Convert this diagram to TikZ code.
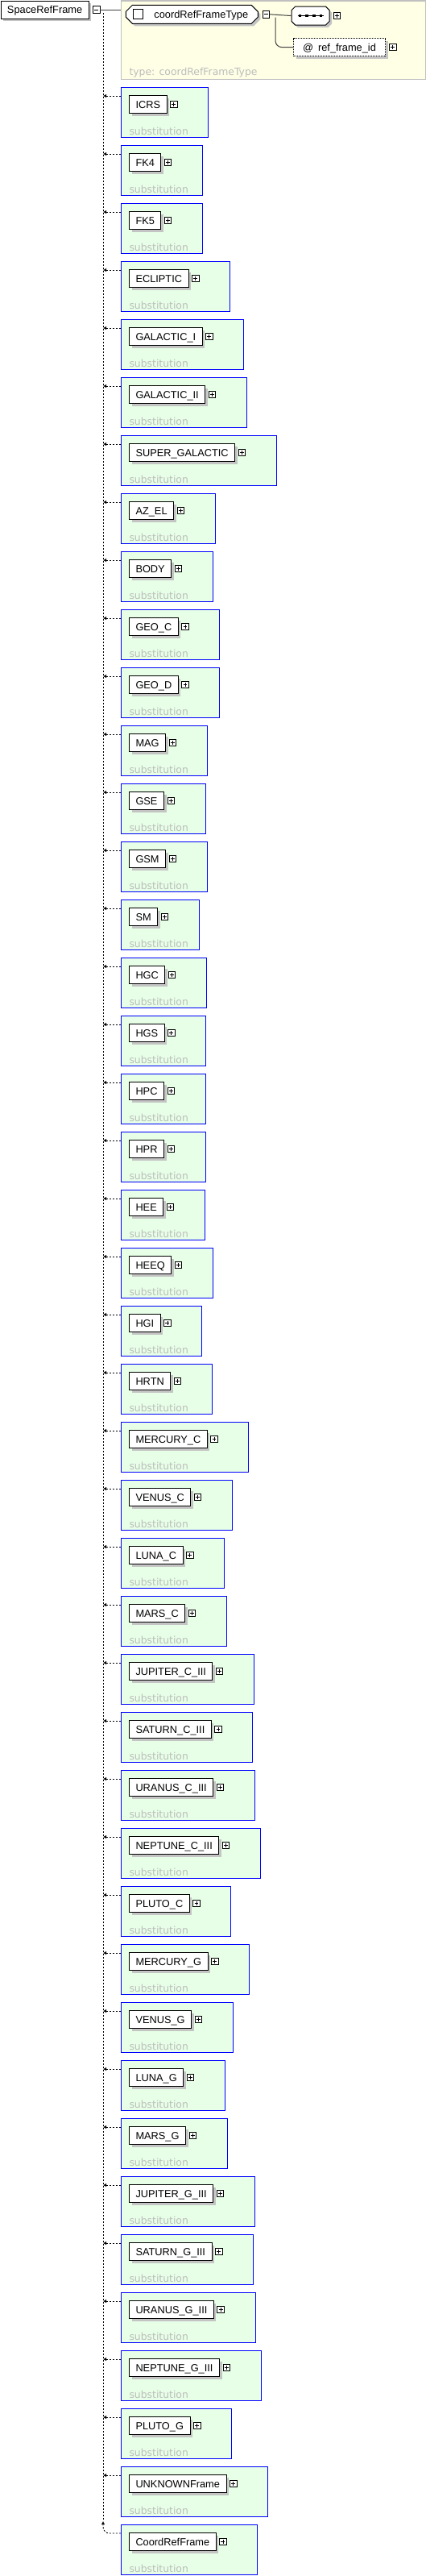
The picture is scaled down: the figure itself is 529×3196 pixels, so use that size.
\documentclass[tikz,border=0pt]{standalone}
\usepackage{fontspec}
\setmainfont{Liberation Sans}
\newfontfamily\notefont{DejaVu Sans}
\usetikzlibrary{positioning,shapes.misc,shadows,arrows.meta,backgrounds,fit}

\definecolor{substfill}{HTML}{E6FFE6}
\definecolor{substline}{HTML}{0000FF}
\definecolor{typefill}{HTML}{FFFFE6}
\definecolor{typeline}{HTML}{C0C0C0}
\definecolor{shadowgray}{HTML}{C4C4C4}
\definecolor{notegray}{HTML}{BDBDBD}
\definecolor{linkgray}{HTML}{404040}

\begin{document}
\begin{tikzpicture}[x=1pt, y=-1pt, line width=1pt]
  \tikzstyle{boxshadow}=[drop shadow={shadow xshift=3pt, shadow yshift=-3pt, fill=shadowgray, opacity=1}]
  \tikzstyle{elem}=[draw, fill=white, boxshadow, anchor=north west, inner xsep=8pt, inner ysep=6.5pt, text height=9.2pt, text depth=0pt, font=\fontsize{12.8}{14}\selectfont]
  \tikzstyle{chamf}=[chamfered rectangle, chamfered rectangle xsep=5pt, draw, fill=white, boxshadow, anchor=north west, minimum height=23pt, inner sep=0pt, text height=9.2pt, text depth=0pt, font=\fontsize{12.8}{14}\selectfont]
  \tikzstyle{attr}=[elem, dash pattern=on 1pt off 1pt, minimum width=114pt]
  \tikzstyle{icon}=[draw, fill=white, minimum size=8.5pt, inner sep=0pt, line width=0.8pt]
  \tikzstyle{minusicon}=[icon, path picture={\draw ([xshift=1.8pt]path picture bounding box.west) -- ([xshift=-1.8pt]path picture bounding box.east);}]
  \tikzstyle{plusicon}=[icon, path picture={\draw ([xshift=1.8pt]path picture bounding box.west) -- ([xshift=-1.8pt]path picture bounding box.east); \draw ([yshift=-1.8pt]path picture bounding box.north) -- ([yshift=1.8pt]path picture bounding box.south);}]
  \tikzstyle{sqbox}=[draw, fill=white, minimum size=12pt, inner sep=0pt]
  \tikzstyle{note}=[text=notegray, font=\notefont\fontsize{12.4}{14}\selectfont, inner sep=0pt, anchor=base west]
  \tikzstyle{typebox}=[draw=typeline, fill=typefill, anchor=north west, minimum width=378pt, minimum height=97.5pt, inner sep=0pt]
  \tikzstyle{substbox}=[draw=substline, fill=substfill, inner sep=0pt]
  \tikzstyle{substarrow}=[-{Latex[length=4pt,width=4.5pt]}, dash pattern=on 2pt off 2pt, line width=0.9pt]
  \tikzstyle{spine}=[dash pattern=on 2pt off 2pt, line width=0.9pt]
  \tikzstyle{link}=[draw=linkgray, line width=1pt]

  \useasboundingbox (0,0) rectangle (529,3196);

  % element and its type
  \node[elem] (root) at (0.5,0.5) {SpaceRefFrame};
  \node[minusicon, right=4.5pt of root] (rootmin) {};
  \node[typebox] (tbox) at (150,0.5) {};
  \node[note] (tnote) at (160,93.5) {type: coordRefFrameType};
  \node[chamf, minimum width=164pt] (ctype) at (160,10) {\hspace*{23pt}coordRefFrameType};
  \node[sqbox] (ctypesq) at ([xshift=16pt]ctype.west) {};
  \node[minusicon, right=5pt of ctype] (ctypemin) {};
  \node[chamf, minimum width=47pt] (seq) at (364,10) {};
  \node[plusicon, right=4pt of seq] (seqplus) {};
  \node[attr] (attr) at (364,47) {@\hspace{6pt}ref\_frame\_id};
  \node[plusicon, right=4pt of attr] (attrplus) {};

  \draw[line width=1pt] ([xshift=-16pt]seq.center) -- ([xshift=16pt]seq.center);
  \foreach \dx in {-13,-4.5,4.5,13}
    \fill ([xshift=\dx pt]seq.center) +(-1.8,-1.8) rectangle +(1.8,1.8);

  \draw[link] (rootmin.east) -- (rootmin -| tbox.west);
  \draw[link] (ctypemin.east) -- (seq.west);
  \coordinate (fork) at (342,21.5);
  \draw[link, rounded corners=8pt] (fork) |- (attr.west);

  % substitution group members
  \foreach \lbl [count=\i from 0] in {ICRS, FK4, FK5, ECLIPTIC, GALACTIC\_I, GALACTIC\_II,
      SUPER\_GALACTIC, AZ\_EL, BODY, GEO\_C, GEO\_D, MAG, GSE, GSM, SM, HGC, HGS, HPC, HPR,
      HEE, HEEQ, HGI, HRTN, MERCURY\_C, VENUS\_C, LUNA\_C, MARS\_C, JUPITER\_C\_III,
      SATURN\_C\_III, URANUS\_C\_III, NEPTUNE\_C\_III, PLUTO\_C, MERCURY\_G, VENUS\_G,
      LUNA\_G, MARS\_G, JUPITER\_G\_III, SATURN\_G\_III, URANUS\_G\_III, NEPTUNE\_G\_III,
      PLUTO\_G, UNKNOWNFrame, CoordRefFrame} {
    \pgfmathsetmacro{\ytop}{108+72*\i}
    \node[elem] (e\i) at (160,{\ytop+10}) {\lbl};
    \node[plusicon, right=3.5pt of e\i] (p\i) {};
    \node[note] (s\i) at (160,{\ytop+59}) {substitution};
    \coordinate (c\i) at (150,\ytop);
    \coordinate (b\i) at (150,{\ytop+62});
    \coordinate (r\i) at ([xshift=38pt]p\i.east);
    \begin{scope}[on background layer]
      \node[substbox, fit=(c\i)(b\i)(r\i)] (g\i) {};
    \end{scope}
  }

  \coordinate (spinetop) at (128,16);
  \coordinate (spinebot) at (128,3128);
  \draw[spine] (spinetop) -- (spinebot);
  \foreach \i in {0,...,41} {
    \coordinate (a\i) at (128,{108+72*\i+11});
    \draw[substarrow] (g\i.west |- a\i) -- (a\i);
  }
  \coordinate (a42) at (140,3143);
  \draw[substarrow, rounded corners=8pt] (g42.west |- a42) -| (spinebot);
\end{tikzpicture}
\end{document}
